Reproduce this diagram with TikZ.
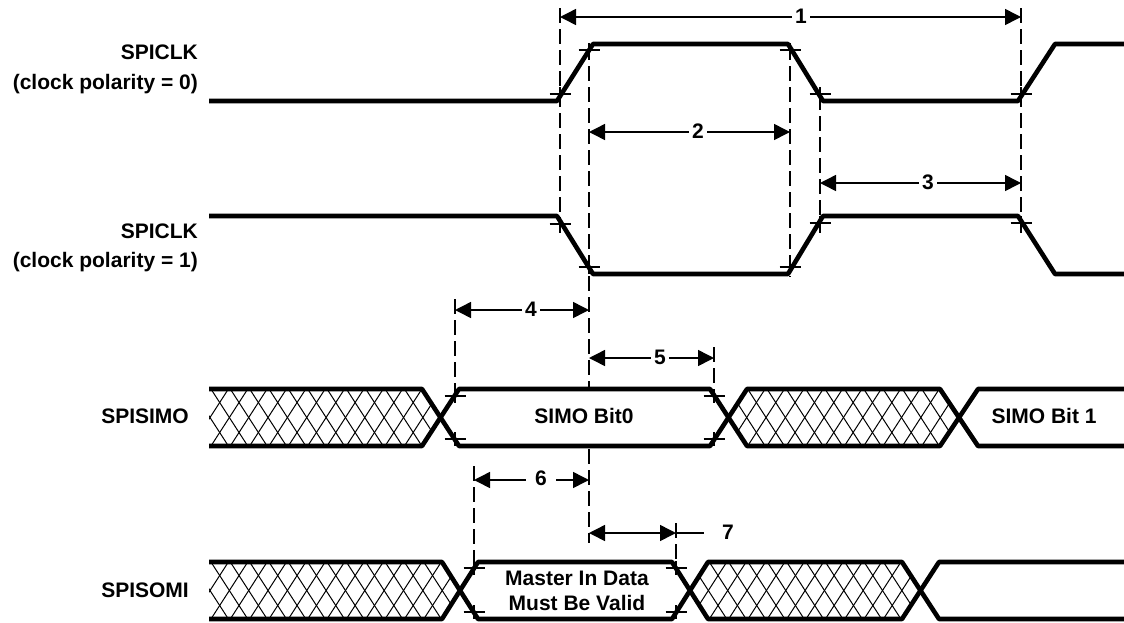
\documentclass[tikz,border=0pt]{standalone}
\usepackage{fontspec}
\setmainfont{Liberation Sans}
\usetikzlibrary{arrows.meta}
\tikzset{
	wave/.style={line width=4.6pt,line join=bevel},
	mesh/.style={line width=1pt},
	tick/.style={line width=1.3pt},
	guide/.style={line width=1.5pt,dash pattern=on 15pt off 6pt},
	span/.style={line width=1.5pt,{Triangle[length=16pt,width=16pt]}-{Triangle[length=16pt,width=16pt]}},
	tag/.style={font=\fontsize{21}{24}\selectfont\bfseries,inner sep=0pt,align=center},
	num/.style={tag,fill=white,inner xsep=3pt,inner ysep=1pt}
}
\newcommand{\hatchband}[4]{
	\begin{scope}
		\clip #1;
		\foreach \k in {0,...,15} {
			\draw[mesh] ({#2+\k*19.35-18.4},#3) -- ++(36.8,57);
			\draw[mesh] ({#2+\k*19.35-18.4},#4) -- ++(36.8,-57);
		}
	\end{scope}
}
\begin{document}
\begin{tikzpicture}[x=1pt,y=-1pt]
	\useasboundingbox (0,0) rectangle (1124,622);
	% hatching
	\hatchband{(209,389) -- (422,389) -- (440,417.5) -- (422,446) -- (209,446) -- cycle}{190.65}{389}{446}
	\hatchband{(728,417.5) -- (747,389) -- (940,389) -- (959,417.5) -- (940,446) -- (747,446) -- cycle}{708}{389}{446}
	\hatchband{(209,562) -- (442,562) -- (460,590.5) -- (442,619) -- (209,619) -- cycle}{190.65}{562}{619}
	\hatchband{(690,590.5) -- (708,562) -- (902,562) -- (920,590.5) -- (902,619) -- (708,619) -- cycle}{689}{562}{619}
	% clock waves
	\draw[wave] (209,101) -- (557,101) -- (593,44) -- (788,44) -- (823,101) -- (1018,101) -- (1055,44) -- (1124,44);
	\draw[wave] (209,216) -- (557,216) -- (593,274) -- (788,274) -- (823,216) -- (1018,216) -- (1055,274) -- (1124,274);
	% data waves
	\draw[wave] (209,389) -- (422,389) -- (459,446) -- (710,446) -- (747,389) -- (940,389) -- (978,446) -- (1124,446);
	\draw[wave] (209,446) -- (422,446) -- (459,389) -- (710,389) -- (747,446) -- (940,446) -- (978,389) -- (1124,389);
	\draw[wave] (209,562) -- (442,562) -- (478,619) -- (672,619) -- (708,562) -- (902,562) -- (939,619) -- (1124,619);
	\draw[wave] (209,619) -- (442,619) -- (478,562) -- (672,562) -- (708,619) -- (902,619) -- (939,562) -- (1124,562);
	% crossings
	\foreach \x/\y in {560/94,589/50,790/50,820/94,1021/94,
		560/224,589/267,790/267,820/223,1021/223,
		455/396,455/439,714/396,714/439,
		474/568,474/612,676/568,676/612} {
		\draw[tick] (\x-10.5,\y) -- (\x+10.5,\y);
		\draw[tick] (\x,\y-7) -- (\x,\y+7);
	}
	% guides
	\foreach \x/\a/\b in {560/8/233,1021/8/233,589/45/387,589/449/543,790/45/277,820/95/233,
		455/299/392,714/347/392,474/466/564,676/523/564} {
		\draw[guide] (\x,\a) -- (\x,\b);
	}
	% spans
	\foreach \n/\a/\b/\y/\m in {1/560/1021/17/801,2/589/790/132/698,3/820/1021/183/928,
		4/455/589/310/531,5/589/714/358/660} {
		\coordinate (S\n) at (\a,\y);
		\coordinate (E\n) at (\b,\y);
		\draw[span] (S\n) -- (E\n);
		\node[num] (N\n) at (\m,\y-1) {\n};
	}
	\coordinate (S6) at (474,480);
	\coordinate (E6) at (589,480);
	\draw[span] (S6) -- (E6);
	\node[num,inner xsep=9pt] (N6) at (541,478) {6};
	\coordinate (S7) at (589,533);
	\coordinate (E7) at (676,533);
	\coordinate (F7) at (704,533);
	\draw[span] (S7) -- (E7);
	\draw[line width=1.5pt] (E7) -- (F7);
	\node[tag] (N7) at (728,532) {7};
	% labels
	\node[tag,anchor=east] (CK0) at (198,52) {SPICLK};
	\node[tag,anchor=east] (PO0) at (198,84) {(clock polarity = 0)};
	\node[tag,anchor=east] (CK1) at (198,231) {SPICLK};
	\node[tag,anchor=east] (PO1) at (198,262) {(clock polarity = 1)};
	\node[tag,anchor=east] (MO) at (189,416) {SPISIMO};
	\node[tag,anchor=east] (MI) at (189,590) {SPISOMI};
	\node[tag] (B0) at (584,416) {SIMO Bit0};
	\node[tag] (B1) at (1044,416) {SIMO Bit 1};
	\node[tag] (D1) at (577,578) {Master In Data};
	\node[tag] (D2) at (577,603) {Must Be Valid};
\end{tikzpicture}
\end{document}
